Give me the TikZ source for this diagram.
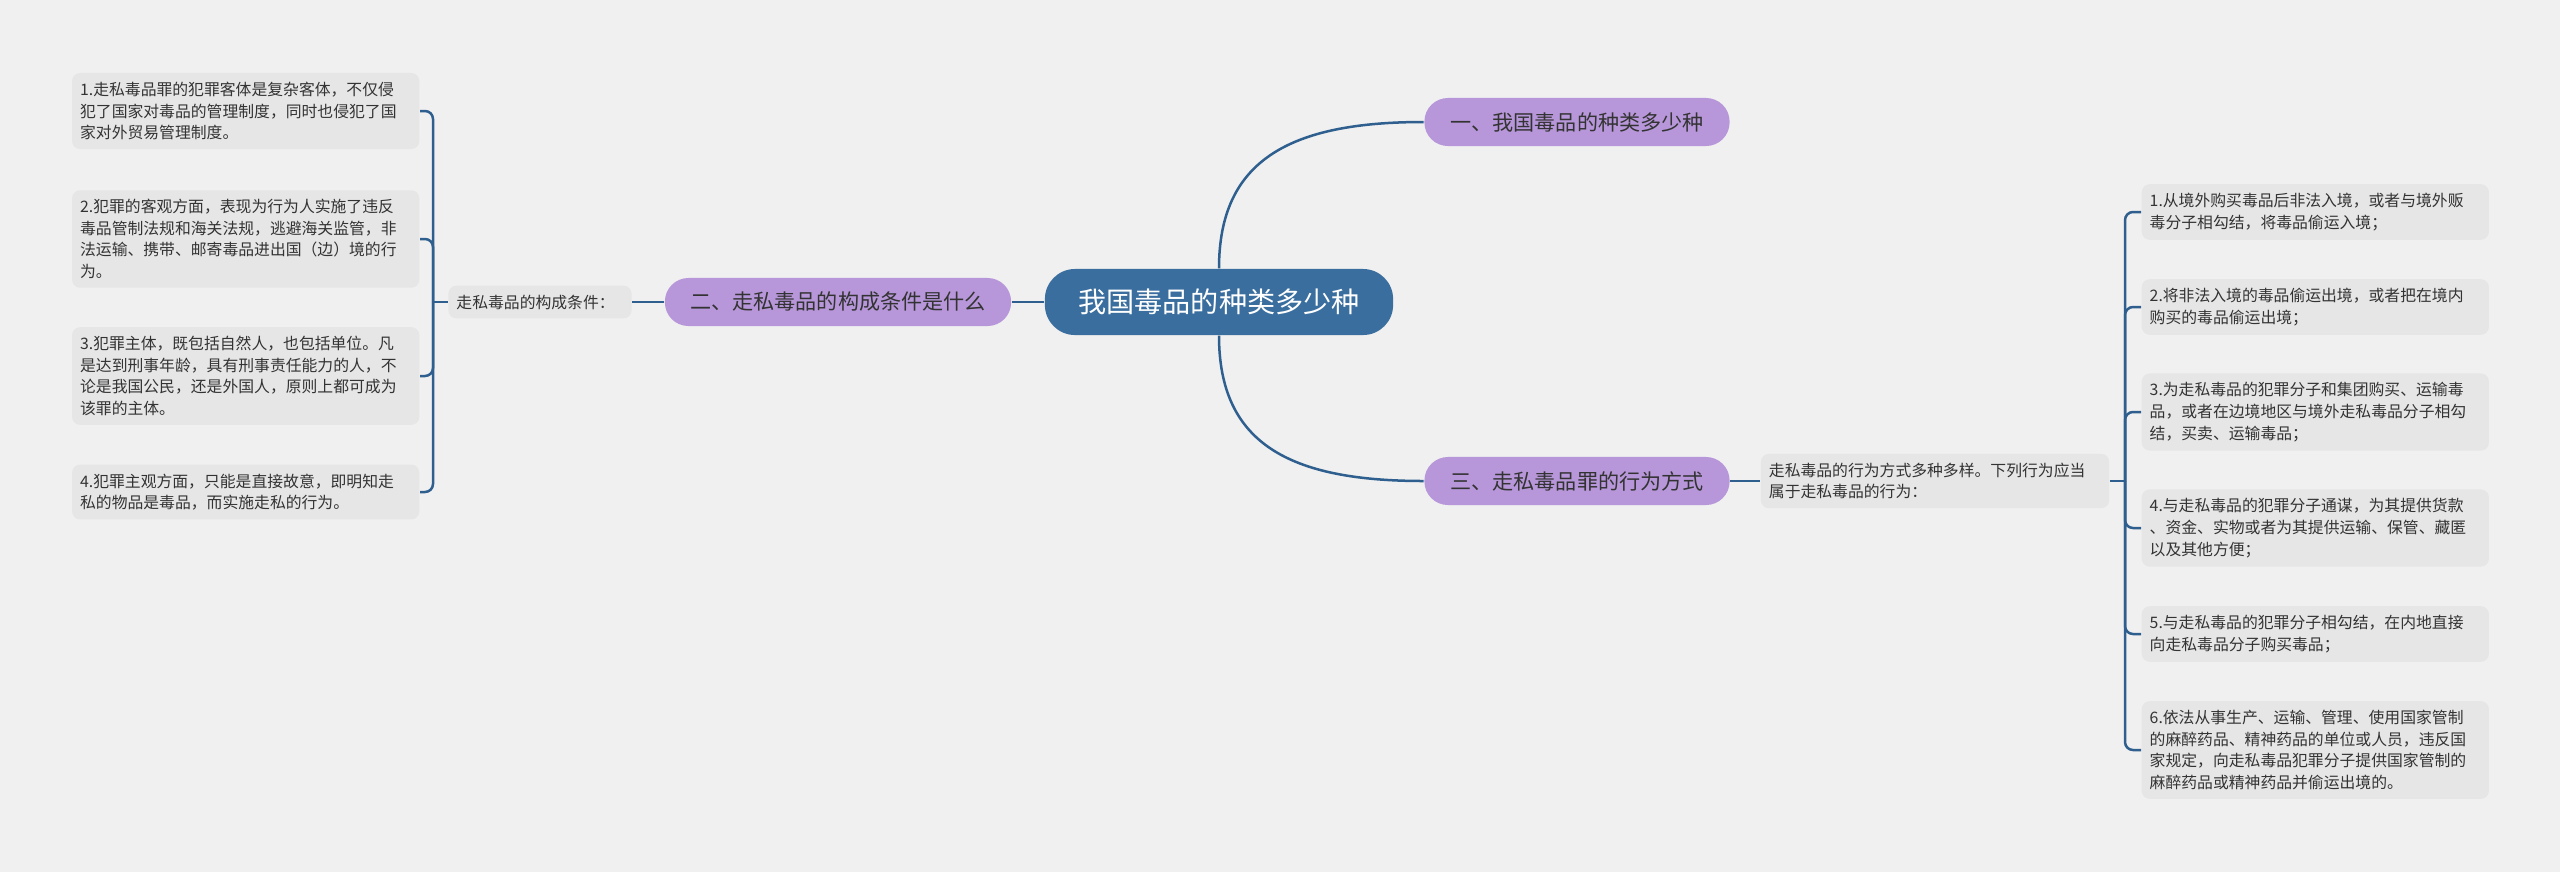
\documentclass[tikz,border=0pt]{standalone}
\usepackage{fontspec}
\newfontfamily\cjk{Noto Sans CJK SC}
\definecolor{bgcol}{HTML}{F0F0F0}
\definecolor{rootblue}{HTML}{3A6E9E}
\definecolor{linkblue}{HTML}{2E5F8E}
\definecolor{topicpurple}{HTML}{B797D9}
\definecolor{leafgray}{HTML}{E6E6E6}
\definecolor{inkgray}{HTML}{333333}

\begin{document}
\begin{tikzpicture}[x=0.01cm, y=-0.01cm,
  rootnode/.style={fill=rootblue, text=white, rounded corners=0.3cm, minimum width=3.48cm, minimum height=0.66cm, font=\cjk\fontsize{8pt}{9pt}\selectfont},
  topic/.style={fill=topicpurple, text=inkgray, rounded corners=0.235cm, minimum height=0.48cm, font=\cjk\fontsize{6pt}{7pt}\selectfont},
  leaf/.style={fill=leafgray, text=inkgray, rounded corners=0.08cm, align=left, inner xsep=0.08cm, inner ysep=0.09cm, font=\cjk\fontsize{4.5pt}{6.15pt}\selectfont},
  link/.style={draw=linkblue, line width=0.025cm}]
\fill [bgcol] (0,0) rectangle (2560,872);
\useasboundingbox (0,0) rectangle (2560,872);

% centre and main topics
\node [rootnode] (root) at (1219,302) {我国毒品的种类多少种};
\node [topic, minimum width=3.05cm] (t1) at (1577,122) {一、我国毒品的种类多少种};
\node [topic, minimum width=3.46cm] (t2) at (838,302) {二、走私毒品的构成条件是什么};
\node [topic, minimum width=3.05cm] (t3) at (1577,481) {三、走私毒品罪的行为方式};
\node [leaf, text width=1.67cm] (c2) at (540,302) {走私毒品的构成条件：};
\node [leaf, text width=3.32cm] (c3) at (1935,481) {走私毒品的行为方式多种多样。下列行为应当\\属于走私毒品的行为：};

% left leaves
\foreach \y/\t [count=\i] in {
  111/{1.走私毒品罪的犯罪客体是复杂客体，不仅侵\\犯了国家对毒品的管理制度，同时也侵犯了国\\家对外贸易管理制度。},
  239/{2.犯罪的客观方面，表现为行为人实施了违反\\毒品管制法规和海关法规，逃避海关监管，非\\法运输、携带、邮寄毒品进出国（边）境的行\\为。},
  376/{3.犯罪主体，既包括自然人，也包括单位。凡\\是达到刑事年龄，具有刑事责任能力的人，不\\论是我国公民，还是外国人，原则上都可成为\\该罪的主体。},
  492/{4.犯罪主观方面，只能是直接故意，即明知走\\私的物品是毒品，而实施走私的行为。}} {
  \node [leaf, text width=3.31cm, anchor=east] (l\i) at (420,\y) {\t};
}

% right leaves
\foreach \y/\t [count=\i] in {
  212/{1.从境外购买毒品后非法入境，或者与境外贩\\毒分子相勾结，将毒品偷运入境；},
  307/{2.将非法入境的毒品偷运出境，或者把在境内\\购买的毒品偷运出境；},
  412/{3.为走私毒品的犯罪分子和集团购买、运输毒\\品，或者在边境地区与境外走私毒品分子相勾\\结，买卖、运输毒品；},
  528/{4.与走私毒品的犯罪分子通谋，为其提供货款\\、资金、实物或者为其提供运输、保管、藏匿\\以及其他方便；},
  634/{5.与走私毒品的犯罪分子相勾结，在内地直接\\向走私毒品分子购买毒品；},
  750/{6.依法从事生产、运输、管理、使用国家管制\\的麻醉药品、精神药品的单位或人员，违反国\\家规定，向走私毒品犯罪分子提供国家管制的\\麻醉药品或精神药品并偷运出境的。}} {
  \node [leaf, text width=3.31cm, anchor=west] (r\i) at (2141,\y) {\t};
}

% connectors
\coordinate (b2) at (433,302);
\coordinate (b3) at (2125,481);
\draw [link] (root.north) .. controls (1219,160) and (1290,122) .. (t1.west);
\draw [link] (root.south) .. controls (1219,444) and (1290,481) .. (t3.west);
\draw [link] (root.west) -- (t2.east);
\draw [link] (t2.west) -- (c2.east);
\draw [link] (c2.west) -- (b2);
\foreach \i in {1,...,4}
  \draw [link, rounded corners=0.08cm] (b2) |- (l\i.east);
\draw [link] (t3.east) -- (c3.west);
\draw [link] (c3.east) -- (b3);
\foreach \i in {1,...,6}
  \draw [link, rounded corners=0.08cm] (b3) |- (r\i.west);
\end{tikzpicture}
\end{document}
